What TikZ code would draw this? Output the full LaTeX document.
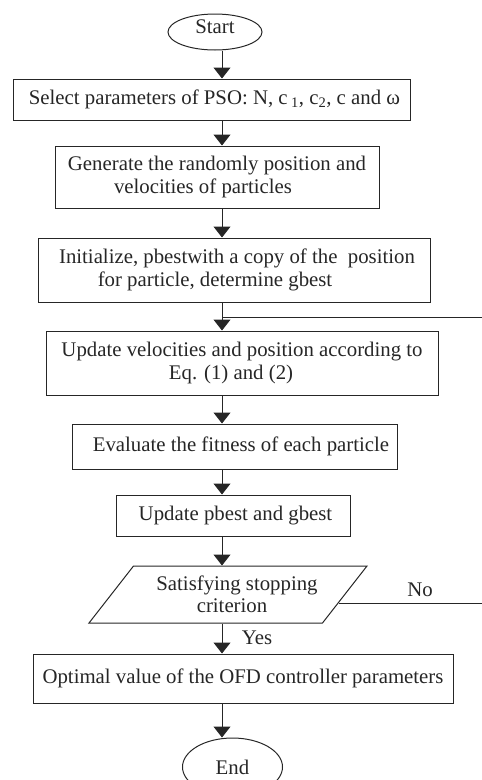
\documentclass[tikz,border=0pt]{standalone}
\usepackage{fontspec}
\setmainfont{Liberation Serif}
\usetikzlibrary{positioning, shapes.geometric, arrows.meta, calc}

\begin{document}
\begin{tikzpicture}[x=1pt, y=-1pt, font=\fontsize{20.8}{22.5}\selectfont]

  \tikzstyle{module}=[draw=black!85, text=black!85, line width=1pt, inner sep=0pt, align=center]
  \tikzstyle{stepbox}=[module, rectangle]
  \tikzstyle{terminal}=[module, ellipse]
  \tikzstyle{decision}=[module, trapezium, trapezium left angle=40, trapezium right angle=140, trapezium stretches body]
  \tikzstyle{flow}=[draw=black!85, line width=1pt, -{Triangle[width=17pt, length=11pt]}]

  \useasboundingbox (0,0) rectangle (482,780);

  \node [terminal, minimum width=94pt, minimum height=36pt, text height=7pt, text depth=5pt] (start) at (215, 32) {Start};

  \node [stepbox, minimum width=397pt, minimum height=41pt] (select) at (211.5, 99.5)
    {\hspace*{6pt}Select parameters of PSO: N, c\,\textsubscript{1}, c\textsubscript{2}, c and ω};
  \node [stepbox, minimum width=324pt, minimum height=62pt] (generate) at (217, 177)
    {Generate the randomly position and\\velocities of particles\hspace*{28pt}};
  \node [stepbox, minimum width=392pt, minimum height=64pt] (init) at (234, 270)
    {\hspace*{6pt}Initialize, pbestwith a copy of the~ position\\for particle, determine gbest\hspace*{38pt}};
  \node [stepbox, minimum width=392pt, minimum height=64pt] (update) at (242, 363)
    {Update velocities and position according to\\Eq. (1) and (2)\hspace*{22pt}};
  \node [stepbox, minimum width=325pt, minimum height=45pt] (evaluate) at (234.5, 446.5)
    {\hspace*{13pt}Evaluate the fitness of each particle};
  \node [stepbox, minimum width=234pt, minimum height=41pt] (best) at (233, 515.5)
    {\hspace*{5pt}Update pbest and gbest};
  \node [decision, minimum width=278pt, minimum height=57pt] (check) at (228, 594.5)
    {\hspace*{18pt}Satisfying stopping\\criterion\hspace*{-8pt}};
  \node [stepbox, minimum width=420pt, minimum height=49pt] (optimal) at (243, 678.5)
    {Optimal value of the OFD controller parameters};
  \node [terminal, minimum width=100pt, minimum height=58pt] (stop) at (232.5, 767) {End};

  \node [anchor=south, text=black!85] (nolabel) at (420, 600) {No};
  \node [text=black!85] (yeslabel) at (257, 638) {Yes};

  \coordinate (spine) at (222, 0);
  \coordinate (join) at (222, 317);
  \coordinate (loop) at (484, 317);
  \coordinate (nopt) at ($(check.top right corner)!0.65!(check.bottom right corner)$);

  \draw [flow] (start.south -| spine) -- (select.north -| spine);
  \draw [flow] (select.south -| spine) -- (generate.north -| spine);
  \draw [flow] (generate.south -| spine) -- (init.north -| spine);
  \draw [flow] (init.south -| spine) -- (update.north -| spine);
  \draw [flow] (update.south -| spine) -- (evaluate.north -| spine);
  \draw [flow] (evaluate.south -| spine) -- (best.north -| spine);
  \draw [flow] (best.south -| spine) -- (check.north -| spine);
  \draw [flow] (check.south -| spine) -- (optimal.north -| spine);
  \draw [flow] (optimal.south -| spine) -- (stop.north -| spine);

  \draw [draw=black!85, line width=1pt] (nopt) -| (loop) -- (join);
\end{tikzpicture}
\end{document}
